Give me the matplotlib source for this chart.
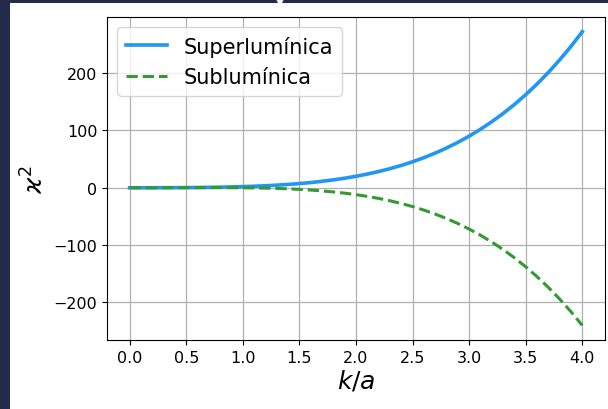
import matplotlib.pyplot as plt
from matplotlib.patches import Rectangle, Polygon

k = [0.0, 0.1, 0.2, 0.3, 0.4, 0.5, 0.6, 0.7, 0.8, 0.9, 1.0,
     1.1, 1.2, 1.3, 1.4, 1.5, 1.6, 1.7, 1.8, 1.9, 2.0,
     2.1, 2.2, 2.3, 2.4, 2.5, 2.6, 2.7, 2.8, 2.9, 3.0,
     3.1, 3.2, 3.3, 3.4, 3.5, 3.6, 3.7, 3.8, 3.9, 4.0]
superluminica = [0.0, 0.01, 0.04, 0.1, 0.19, 0.31, 0.49, 0.73, 1.05, 1.47, 2.0,
                 2.67, 3.51, 4.55, 5.8, 7.31, 9.11, 11.24, 13.74, 16.64, 20.0,
                 23.86, 28.27, 33.27, 38.94, 45.31, 52.46, 60.43, 69.31, 79.14, 90.0,
                 101.96, 115.1, 129.48, 145.19, 162.31, 180.92, 201.11, 222.95, 246.55, 272.0]
subluminica = [0.0, 0.01, 0.04, 0.08, 0.13, 0.19, 0.23, 0.25, 0.23, 0.15, 0.0,
               -0.25, -0.63, -1.17, -1.88, -2.81, -3.99, -5.46, -7.26, -9.42, -12.0,
               -15.04, -18.59, -22.69, -27.42, -32.81, -38.94, -45.85, -53.63, -62.32, -72.0,
               -82.74, -94.62, -107.7, -122.07, -137.81, -155.0, -173.73, -194.07, -216.13, -240.0]

fig = plt.figure(figsize=(6.08, 4.10), dpi=100)
fig.patch.set_facecolor('#232b4b')
# white page inside the dark frame
fig.patches.append(Rectangle((10 / 608, 0), 1, 1 - 4 / 410, transform=fig.transFigure,
                             facecolor='white', edgecolor='none', zorder=-2))
fig.patches.append(Polygon([(276 / 608, 1), (284 / 608, 1), (280 / 608, 1 - 8 / 410)],
                           transform=fig.transFigure, facecolor='white',
                           edgecolor='none', zorder=-1))

ax = fig.add_axes([0.176, 0.168, 0.819, 0.788])
ax.plot(k, superluminica, color='#2196f3', lw=2.6, label='Superlumínica')
ax.plot(k, subluminica, color='#339933', lw=2.2, ls='--', label='Sublumínica')

ax.set_xticks([0.0, 0.5, 1.0, 1.5, 2.0, 2.5, 3.0, 3.5, 4.0])
ax.set_yticks([-200, -100, 0, 100, 200])
ax.tick_params(labelsize=11.5)
ax.grid(True, color='#b0b0b0', lw=0.9)
ax.set_xlabel(r'$k/a$', fontsize=18, labelpad=2)
ax.set_ylabel(r'$\varkappa^2$', fontsize=18)
ax.legend(loc='upper left', fontsize=15, handlelength=2.0)

plt.savefig('out.png', dpi=100, facecolor=fig.get_facecolor())
